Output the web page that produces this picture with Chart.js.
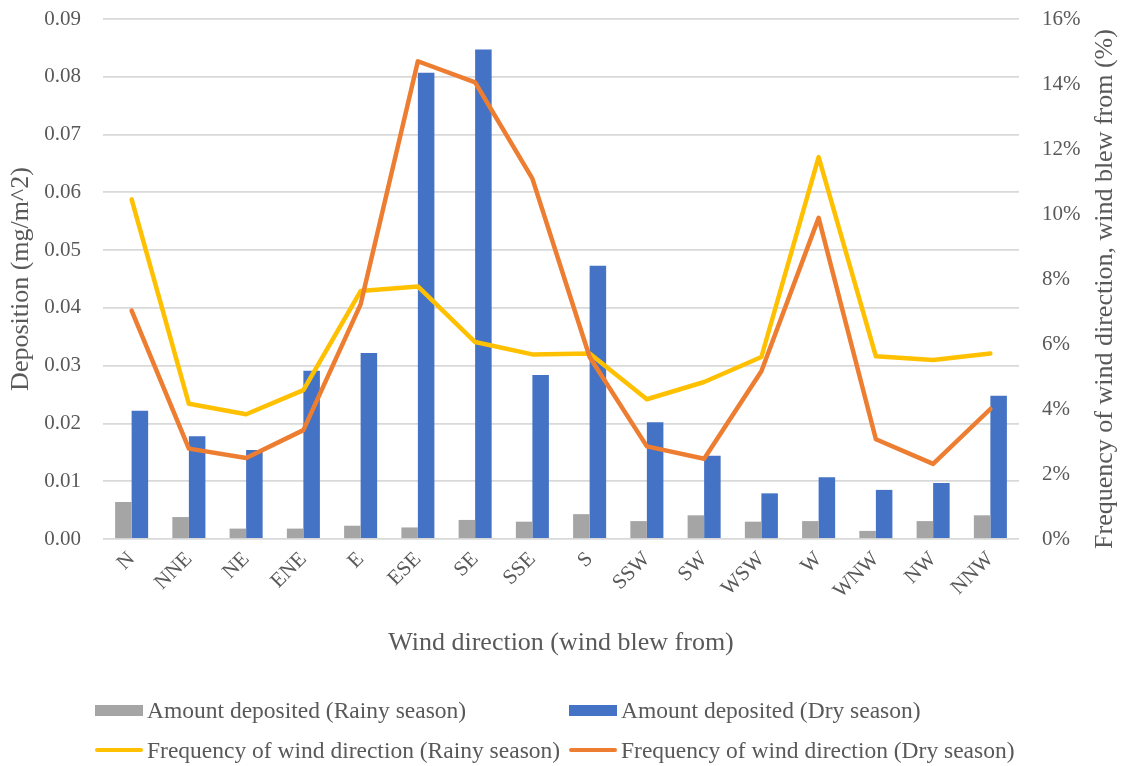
<!DOCTYPE html>
<html>
<head>
<meta charset="utf-8">
<script src="https://cdn.jsdelivr.net/npm/chart.js@4/dist/chart.umd.min.js"></script>
<style>
  html, body { margin: 0; padding: 0; background: #fff; }
  #wrap { position: relative; width: 1124px; height: 766px; }
  #legend {
    position: absolute; left: 95px; top: 690px;
    display: grid; grid-template-columns: 474px 480px;
    font-family: 'Liberation Serif', serif; font-size: 23.5px; color: #595959;
  }
  .item { display: flex; align-items: center; height: 40px; white-space: nowrap; }
  .swatch { width: 48px; margin-right: 4px; flex: none; }
</style>
</head>
<body>
<div id="wrap">
  <canvas id="chart" width="1124" height="766"></canvas>
  <div id="legend"></div>
</div>
<script>
const directions = ['N', 'NNE', 'NE', 'ENE', 'E', 'ESE', 'SE', 'SSE', 'S', 'SSW', 'SW', 'WSW', 'W', 'WNW', 'NW', 'NNW'];

// deposition, mg/m^2
const depositRainy = [0.0064, 0.0038, 0.0018, 0.0018, 0.0023, 0.0020, 0.0033, 0.0030, 0.0043, 0.0031, 0.0041, 0.0030, 0.0031, 0.0014, 0.0031, 0.0041];
const depositDry = [0.0222, 0.0178, 0.0154, 0.0291, 0.0322, 0.0807, 0.0847, 0.0284, 0.0473, 0.0202, 0.0144, 0.0079, 0.0107, 0.0085, 0.0097, 0.0248];

// frequency of wind direction, %
const freqRainy = [10.45, 4.16, 3.84, 4.58, 7.63, 7.77, 6.06, 5.68, 5.71, 4.30, 4.83, 5.60, 11.75, 5.62, 5.51, 5.71];
const freqDry = [7.03, 2.78, 2.49, 3.35, 7.22, 14.70, 14.05, 11.09, 5.60, 2.85, 2.47, 5.16, 9.88, 3.07, 2.31, 4.00];

const seriesNames = [
    'Amount deposited (Rainy season)',
    'Amount deposited (Dry season)',
    'Frequency of wind direction (Rainy season)',
    'Frequency of wind direction (Dry season)',
];
const leftTitle = 'Deposition (mg/m^2)';
const rightTitle = 'Frequency of wind direction, wind blew from (%)';
const bottomTitle = 'Wind direction (wind blew from)';

const textColor = '#595959';
const fontFamily = "'Liberation Serif', serif";

// right axis title reads bottom-to-top, so draw it by hand
const rightTitlePlugin = {
    id: 'rightTitle',
    afterDraw(chart) {
        const { ctx, chartArea } = chart;
        const axis = chart.scales.y1;
        ctx.save();
        ctx.translate(axis.right - 19, (chartArea.top + chartArea.bottom) / 2 + 10);
        ctx.rotate(-Math.PI / 2);
        ctx.font = `26px ${fontFamily}`;
        ctx.fillStyle = textColor;
        ctx.textAlign = 'center';
        ctx.textBaseline = 'middle';
        ctx.fillText(rightTitle, 0, 0);
        ctx.restore();
    },
};

// fixed axis widths; drop the label padding so the plot starts where the original does
function fitY(width) {
    return (axis) => {
        axis.width = width;
        axis.paddingTop = 0;
        axis.paddingBottom = 0;
    };
}

const chart = new Chart(document.getElementById('chart').getContext('2d'), {
    type: 'bar',
    data: {
        labels: directions,
        datasets: [
            {
                type: 'line',
                label: seriesNames[3],
                data: freqDry,
                yAxisID: 'y1',
                borderColor: '#ED7D31',
                backgroundColor: '#ED7D31',
                borderWidth: 4.5,
                pointRadius: 0,
                borderJoinStyle: 'round',
                borderCapStyle: 'round',
                tension: 0,
                order: 0,
            },
            {
                type: 'line',
                label: seriesNames[2],
                data: freqRainy,
                yAxisID: 'y1',
                borderColor: '#FFC000',
                backgroundColor: '#FFC000',
                borderWidth: 4.5,
                pointRadius: 0,
                borderJoinStyle: 'round',
                borderCapStyle: 'round',
                tension: 0,
                order: 1,
            },
            {
                label: seriesNames[0],
                data: depositRainy,
                yAxisID: 'y',
                backgroundColor: '#A5A5A5',
                categoryPercentage: 0.577,
                barPercentage: 1,
                order: 2,
            },
            {
                label: seriesNames[1],
                data: depositDry,
                yAxisID: 'y',
                backgroundColor: '#4472C4',
                categoryPercentage: 0.577,
                barPercentage: 1,
                order: 3,
            },
        ],
    },
    options: {
        responsive: false,
        animation: false,
        layout: { padding: { top: 19, bottom: 90, left: 0, right: 0 } },
        plugins: {
            legend: { display: false },
            tooltip: { enabled: false },
        },
        scales: {
            x: {
                grid: { display: false, drawTicks: false },
                border: { display: false },
                ticks: {
                    color: textColor,
                    font: { family: fontFamily, size: 21 },
                    minRotation: 45,
                    maxRotation: 45,
                    padding: 8,
                },
                title: {
                    display: true,
                    text: bottomTitle,
                    color: textColor,
                    font: { family: fontFamily, size: 26 },
                    padding: { top: 0, bottom: 17 },
                },
                afterFit: (axis) => { axis.height = 137; },
            },
            y: {
                position: 'left',
                min: 0,
                max: 0.09,
                ticks: {
                    stepSize: 0.01,
                    color: textColor,
                    font: { family: fontFamily, size: 21 },
                    padding: 22,
                    callback: (v) => v.toFixed(2),
                },
                grid: { color: '#D9D9D9', lineWidth: 1.8, drawTicks: false },
                border: { display: false },
                title: {
                    display: true,
                    text: leftTitle,
                    color: textColor,
                    font: { family: fontFamily, size: 26 },
                    padding: { top: 6, bottom: 0 },
                },
                afterFit: fitY(103),
            },
            y1: {
                position: 'right',
                min: 0,
                max: 16,
                ticks: {
                    stepSize: 2,
                    color: textColor,
                    font: { family: fontFamily, size: 21 },
                    padding: 23,
                    callback: (v) => v + '%',
                },
                grid: { display: false, drawTicks: false },
                border: { display: false },
                afterFit: fitY(105),
            },
        },
    },
    plugins: [rightTitlePlugin],
});

// legend in two columns, like the original
const legendEl = document.getElementById('legend');
const legendOrder = [2, 3, 1, 0];
legendOrder.forEach((idx) => {
    const ds = chart.data.datasets[idx];
    const item = document.createElement('div');
    item.className = 'item';
    const sw = document.createElement('span');
    sw.className = 'swatch';
    if (ds.type === 'line') {
        sw.style.height = '4px';
        sw.style.borderRadius = '2px';
        sw.style.background = ds.borderColor;
    } else {
        sw.style.height = '11px';
        sw.style.background = ds.backgroundColor;
    }
    const label = document.createElement('span');
    label.textContent = ds.label;
    item.appendChild(sw);
    item.appendChild(label);
    legendEl.appendChild(item);
});
</script>
</body>
</html>
